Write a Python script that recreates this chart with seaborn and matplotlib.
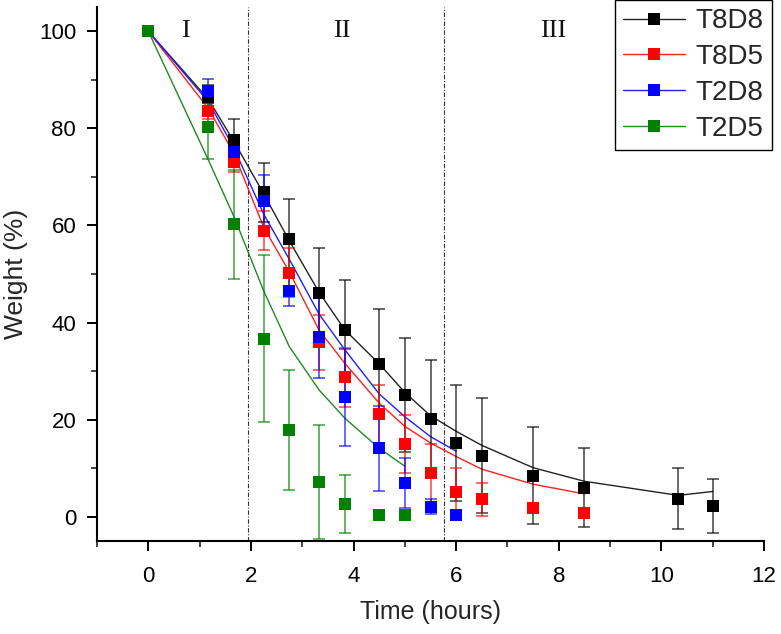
import matplotlib
matplotlib.use("Agg")
import matplotlib.pyplot as plt
from matplotlib.lines import Line2D
from matplotlib.ticker import MultipleLocator
import seaborn as sns
import pandas as pd

# ---- data ----
x_T8D8 = [0, 1.17, 1.67, 2.25, 2.75, 3.33, 3.83, 4.5, 5, 5.5, 6, 6.5, 7.5, 8.5, 10.33, 11]
y_T8D8 = [100, 86.5, 77.6, 66.8, 57.3, 46.0, 38.5, 31.4, 25.1, 20.2, 15.2, 12.6, 8.4, 6.0, 3.7, 2.2]
e_T8D8 = [0, 2.4, 4.4, 6.0, 8.1, 9.4, 10.3, 11.3, 11.7, 12.0, 12.0, 11.9, 10.0, 8.1, 6.3, 5.5]
f_T8D8 = [100, 86.0, 77.3, 66.5, 56.8, 46.2, 38.5, 31.5, 25.6, 20.8, 17.6, 14.7, 10.1, 7.3, 4.4, 5.2]

x_T8D5 = [0, 1.17, 1.67, 2.25, 2.75, 3.33, 3.83, 4.5, 5, 5.5, 6, 6.5, 7.5, 8.5]
y_T8D5 = [100, 83.6, 73.1, 58.9, 50.3, 35.9, 28.7, 21.1, 15.0, 9.0, 5.0, 3.6, 1.9, 0.8]
e_T8D5 = [0, 1.6, 2.0, 4.0, 5.0, 5.7, 6.0, 6.1, 6.0, 6.0, 5.0, 3.4, 1.0, 0.8]
f_T8D5 = [100, 84.1, 74.8, 59.6, 50.4, 38.4, 31.6, 23.4, 18.6, 15.2, 12.4, 9.8, 6.7, 4.7]

x_T2D8 = [0, 1.17, 1.67, 2.25, 2.75, 3.33, 3.83, 4.5, 5, 5.5, 6]
y_T2D8 = [100, 87.7, 75.2, 65.1, 46.5, 37.1, 24.6, 14.1, 6.9, 2.1, 0.4]
e_T2D8 = [0, 2.5, 3.0, 5.3, 3.0, 8.6, 10.0, 8.7, 5.2, 1.6, 0.4]
f_T2D8 = [100, 85.5, 75.9, 62.3, 53.0, 41.7, 34.4, 25.3, 20.6, 16.5, 13.5]

x_T2D5 = [0, 1.17, 1.67, 2.25, 2.75, 3.33, 3.83, 4.5, 5]
y_T2D5 = [100, 80.2, 60.2, 36.7, 17.9, 7.1, 2.6, 0.4, 0.3]
e_T2D5 = [0, 6.5, 11.2, 17.2, 12.4, 11.7, 5.9, 0.3, 0.3]
f_T2D5 = [100, 73.5, 61.8, 46.5, 35.0, 26.1, 20.3, 14.1, 10.4]

series_names = ["T8D8", "T8D5", "T2D8", "T2D5"]
marker_colors = ["#000000", "#ff0000", "#0000ff", "#008000"]
line_colors = ["#222222", "#ff2020", "#2020ff", "#208a20"]
stage_bounds = [1.94, 5.77]
stage_labels = ["I", "II", "III"]
stage_label_x = [0.72, 3.78, 7.9]

series = [
    (x_T8D8, y_T8D8, e_T8D8, f_T8D8),
    (x_T8D5, y_T8D5, e_T8D5, f_T8D5),
    (x_T2D8, y_T2D8, e_T2D8, f_T2D8),
    (x_T2D5, y_T2D5, e_T2D5, f_T2D5),
]

sns.set_theme(style="ticks")
plt.rcParams["font.family"] = ["Liberation Sans", "DejaVu Sans"]

fig = plt.figure(figsize=(7.81, 6.34), dpi=100)
ax = fig.add_axes([97 / 781, 1 - 541 / 634, (764 - 97) / 781, (541 - 7) / 634])

for i, (name, (xs, ys, es, fs)) in enumerate(zip(series_names, series)):
    df = pd.DataFrame({"time": xs, "weight": ys, "err": es, "fit": fs})
    sns.lineplot(data=df, x="time", y="fit", ax=ax, color=line_colors[i],
                 linewidth=1.0, sort=False, estimator=None, zorder=2 + i * 0.1)
    ax.errorbar(df["time"], df["weight"], yerr=df["err"], fmt="none",
                ecolor=marker_colors[i], elinewidth=1.1, capsize=4,
                capthick=1.1, alpha=0.75, zorder=3 + i * 0.1)
    sns.scatterplot(data=df, x="time", y="weight", ax=ax, marker="s", s=82,
                    color=marker_colors[i], linewidth=0, zorder=5 + i * 0.1)

for b in stage_bounds:
    ax.axvline(b, color="#333333", linestyle=(0, (4, 1.5, 1, 1.5)), linewidth=0.8, zorder=1)

for lbl, lx in zip(stage_labels, stage_label_x):
    ax.text(lx, 100, lbl, ha="center", va="center", fontsize=19,
            family=["Liberation Serif", "DejaVu Serif"], color="#111111")

ax.set_xlim(-1, 12)
ax.set_ylim(-5, 105)
ax.xaxis.set_major_locator(MultipleLocator(2))
ax.xaxis.set_minor_locator(MultipleLocator(1))
ax.yaxis.set_major_locator(MultipleLocator(20))
ax.yaxis.set_minor_locator(MultipleLocator(10))
ax.tick_params(which="major", direction="out", length=7, width=1.4, labelsize=16, pad=8, colors="black")
ax.tick_params(axis="x", which="major", pad=11)
ax.tick_params(which="minor", direction="out", length=4, width=1.2)
for s in ["top", "right"]:
    ax.spines[s].set_visible(False)
for s in ["left", "bottom"]:
    ax.spines[s].set_linewidth(1.5)
    ax.spines[s].set_color("black")

ax.set_xlabel("Time (hours)", fontsize=18, labelpad=9)
ax.set_ylabel("Weight (%)", fontsize=19, labelpad=8)

handles = [Line2D([], [], color=line_colors[i], marker="s", markersize=9,
                  markerfacecolor=marker_colors[i], markeredgewidth=0, linewidth=1.0)
           for i in range(4)]
leg = fig.legend(handles, series_names, loc="upper right",
                 bbox_to_anchor=(772 / 781, 1.0), bbox_transform=fig.transFigure,
                 fontsize=20, frameon=True, fancybox=False, framealpha=1,
                 edgecolor="black", handlelength=2.2, labelspacing=0.35,
                 borderpad=0.3, borderaxespad=0, handletextpad=0.4)
leg.get_frame().set_linewidth(1.0)

fig.savefig("out.png", dpi=100)
